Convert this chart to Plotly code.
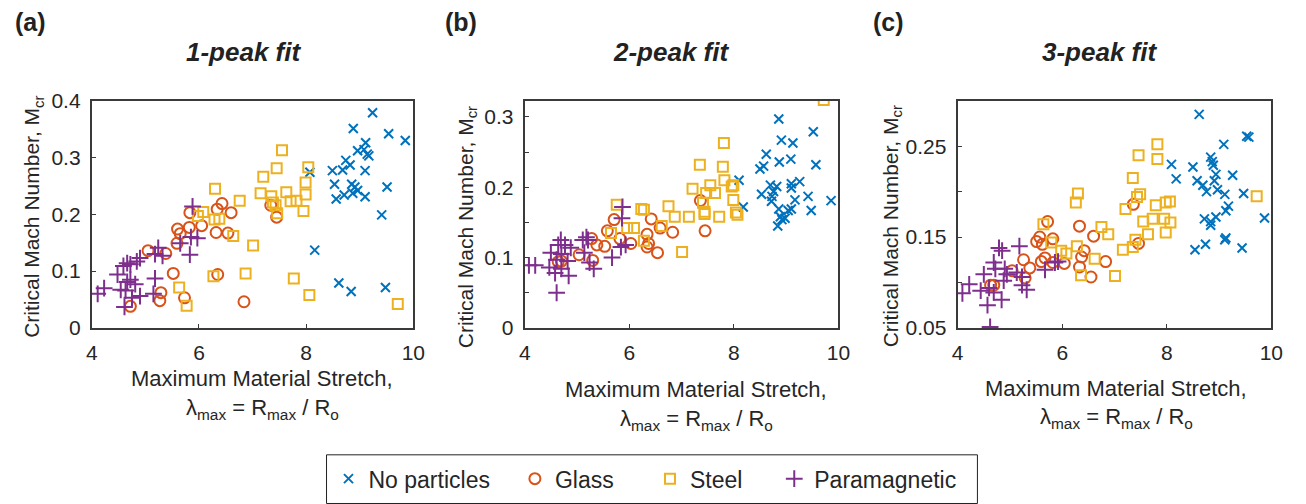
import plotly.graph_objects as go

W, H = 1306, 504

# ---------------- data ----------------
series_names = ["No particles", "Glass", "Steel", "Paramagnetic"]
panel_titles = ["1-peak fit", "2-peak fit", "3-peak fit"]
panel_labels = ["(a)", "(b)", "(c)"]
x_ticks = [4, 6, 8, 10]

# Panel (a) 1-peak fit
a_none_x = [9.24, 8.88, 9.54, 9.85, 9.11, 8.96, 9.08, 9.14, 9.17, 8.74, 8.82, 8.68, 8.07, 8.49, 9.10, 8.53, 8.85, 8.91, 8.96, 8.87, 8.71, 8.56, 9.10, 9.51, 9.41, 8.16, 8.61, 8.84, 9.48]
a_none_y = [0.379, 0.351, 0.342, 0.330, 0.326, 0.312, 0.314, 0.306, 0.303, 0.295, 0.287, 0.278, 0.274, 0.277, 0.277, 0.253, 0.253, 0.248, 0.242, 0.237, 0.234, 0.227, 0.231, 0.248, 0.199, 0.137, 0.079, 0.064, 0.071]
a_glass_x = [5.83, 6.43, 6.34, 6.60, 6.05, 5.82, 5.60, 5.65, 6.32, 6.54, 5.59, 5.05, 5.38, 5.52, 6.35, 5.29, 5.27, 5.73, 6.84, 4.72, 7.34, 7.45]
a_glass_y = [0.203, 0.219, 0.209, 0.203, 0.180, 0.177, 0.174, 0.166, 0.168, 0.167, 0.149, 0.136, 0.131, 0.096, 0.094, 0.062, 0.048, 0.053, 0.046, 0.038, 0.216, 0.195]
a_steel_x = [7.55, 7.45, 7.20, 8.04, 7.99, 6.30, 6.76, 7.15, 7.35, 7.38, 7.43, 7.63, 7.71, 7.82, 7.99, 7.95, 7.46, 6.08, 5.98, 6.29, 6.38, 6.64, 7.01, 6.87, 6.27, 7.77, 8.06, 5.63, 5.77, 9.71]
a_steel_y = [0.313, 0.281, 0.266, 0.283, 0.256, 0.245, 0.224, 0.237, 0.232, 0.221, 0.216, 0.239, 0.223, 0.224, 0.235, 0.206, 0.202, 0.204, 0.197, 0.191, 0.192, 0.162, 0.145, 0.096, 0.091, 0.087, 0.058, 0.071, 0.039, 0.042]
a_para_x = [5.88, 5.65, 5.85, 5.97, 5.83, 5.24, 5.18, 5.32, 4.90, 4.84, 4.66, 4.59, 4.72, 4.48, 4.72, 4.66, 4.81, 4.54, 4.63, 4.90, 4.75, 5.18, 5.15, 4.23, 4.11, 4.61]
a_para_y = [0.214, 0.149, 0.160, 0.158, 0.129, 0.141, 0.130, 0.127, 0.123, 0.117, 0.114, 0.109, 0.112, 0.094, 0.085, 0.081, 0.077, 0.067, 0.066, 0.056, 0.053, 0.087, 0.060, 0.070, 0.060, 0.037]

# Panel (b) 2-peak fit
b_none_x = [8.86, 9.52, 8.91, 9.13, 8.62, 8.57, 8.50, 8.87, 9.09, 9.57, 8.10, 8.70, 8.82, 9.10, 9.26, 9.10, 8.76, 8.53, 8.73, 8.72, 9.17, 9.42, 9.86, 8.18, 8.86, 9.04, 9.10, 9.48, 8.89, 8.98, 8.92, 8.84]
b_none_y = [0.297, 0.279, 0.267, 0.263, 0.247, 0.230, 0.226, 0.236, 0.240, 0.232, 0.210, 0.203, 0.201, 0.205, 0.208, 0.199, 0.194, 0.190, 0.187, 0.180, 0.182, 0.187, 0.181, 0.172, 0.169, 0.167, 0.169, 0.167, 0.158, 0.156, 0.154, 0.145]
b_glass_x = [7.36, 7.45, 5.71, 6.42, 6.59, 6.83, 5.58, 5.82, 6.03, 6.34, 6.37, 6.34, 6.54, 5.28, 5.38, 5.53, 5.04, 5.30, 4.70, 4.64]
b_glass_y = [0.181, 0.138, 0.154, 0.155, 0.142, 0.136, 0.138, 0.127, 0.120, 0.133, 0.120, 0.115, 0.107, 0.127, 0.118, 0.116, 0.104, 0.096, 0.095, 0.094]
b_steel_x = [9.72, 7.81, 7.35, 7.79, 7.82, 7.55, 7.21, 7.47, 7.64, 7.96, 7.99, 7.99, 7.41, 7.44, 7.44, 8.04, 8.07, 7.72, 7.14, 6.87, 6.75, 5.76, 6.23, 6.28, 6.62, 5.96, 6.09, 5.65, 6.28, 7.01]
b_steel_y = [0.324, 0.263, 0.232, 0.229, 0.210, 0.203, 0.198, 0.192, 0.192, 0.201, 0.203, 0.182, 0.178, 0.165, 0.162, 0.164, 0.161, 0.158, 0.158, 0.158, 0.173, 0.175, 0.169, 0.168, 0.145, 0.142, 0.142, 0.135, 0.124, 0.108]
b_para_x = [5.87, 5.86, 5.84, 5.93, 5.67, 5.21, 5.11, 5.18, 5.14, 5.24, 5.32, 4.69, 4.77, 4.88, 4.64, 4.50, 4.70, 4.61, 4.82, 4.08, 4.20, 4.47, 4.58, 4.84, 4.61, 4.70]
b_para_y = [0.172, 0.156, 0.115, 0.118, 0.100, 0.125, 0.125, 0.129, 0.107, 0.093, 0.084, 0.125, 0.118, 0.114, 0.118, 0.107, 0.105, 0.097, 0.095, 0.089, 0.089, 0.086, 0.078, 0.074, 0.050, 0.084]

# Panel (c) 3-peak fit
c_none_x = [8.62, 9.53, 9.57, 9.09, 8.09, 8.50, 8.84, 8.87, 8.89, 8.18, 8.58, 8.69, 8.94, 8.91, 9.26, 8.97, 8.76, 9.11, 9.47, 9.18, 9.13, 8.72, 8.84, 8.94, 8.84, 9.87, 9.13, 9.11, 8.74, 8.54, 9.44]
c_none_y = [0.285, 0.261, 0.260, 0.252, 0.230, 0.227, 0.238, 0.233, 0.229, 0.214, 0.212, 0.207, 0.219, 0.212, 0.218, 0.202, 0.200, 0.197, 0.198, 0.184, 0.179, 0.170, 0.167, 0.172, 0.163, 0.171, 0.149, 0.147, 0.142, 0.136, 0.138]
c_glass_x = [7.36, 7.46, 5.72, 6.33, 6.60, 5.57, 5.51, 5.62, 5.82, 6.42, 6.37, 6.33, 6.55, 6.83, 5.67, 5.60, 5.82, 6.04, 5.26, 5.38, 5.29, 5.04, 4.69, 4.63]
c_glass_y = [0.186, 0.143, 0.167, 0.162, 0.151, 0.150, 0.145, 0.142, 0.148, 0.135, 0.128, 0.117, 0.106, 0.123, 0.127, 0.123, 0.122, 0.121, 0.125, 0.116, 0.105, 0.113, 0.097, 0.097]
c_steel_x = [7.82, 7.46, 7.82, 7.35, 6.30, 6.26, 7.49, 7.43, 7.21, 7.79, 7.98, 8.06, 9.72, 7.55, 7.73, 7.95, 8.07, 7.98, 7.64, 7.40, 7.35, 7.16, 6.75, 6.88, 5.64, 5.79, 5.98, 6.08, 6.28, 6.62, 6.36, 7.01]
c_steel_y = [0.252, 0.240, 0.236, 0.215, 0.198, 0.188, 0.197, 0.194, 0.181, 0.185, 0.188, 0.189, 0.195, 0.167, 0.170, 0.170, 0.166, 0.155, 0.153, 0.147, 0.139, 0.136, 0.161, 0.153, 0.164, 0.144, 0.135, 0.132, 0.140, 0.126, 0.108, 0.107]
c_para_x = [4.79, 4.85, 5.18, 4.69, 4.72, 4.50, 4.90, 4.94, 4.88, 5.13, 5.23, 5.23, 5.32, 5.67, 5.86, 5.92, 4.22, 4.09, 4.44, 4.60, 4.69, 4.84, 4.57, 4.62]
c_para_y = [0.138, 0.135, 0.140, 0.122, 0.115, 0.109, 0.115, 0.109, 0.102, 0.111, 0.106, 0.097, 0.092, 0.114, 0.122, 0.123, 0.098, 0.088, 0.091, 0.094, 0.089, 0.081, 0.075, 0.051]

panels = [
    [(a_none_x, a_none_y), (a_glass_x, a_glass_y), (a_steel_x, a_steel_y), (a_para_x, a_para_y)],
    [(b_none_x, b_none_y), (b_glass_x, b_glass_y), (b_steel_x, b_steel_y), (b_para_x, b_para_y)],
    [(c_none_x, c_none_y), (c_glass_x, c_glass_y), (c_steel_x, c_steel_y), (c_para_x, c_para_y)],
]

# ---------------- style ----------------
colors = ["#0072BD", "#D95319", "#EDB120", "#7E2F8E"]
symbols = ["x-thin-open", "circle-open", "square-open", "cross-thin-open"]
sizes = [9, 11, 10, 12]
FONT = "Liberation Sans, Arial, sans-serif"
AX = "#3a3a3a"
TXT = "#262626"

def px(x):
    return x / W

def py(y):
    return 1 - y / H

boxes = [(87, 413), (526, 844), (965, 1283)]
top, bottom = 93, 331
legend_ids = ["legend", "legend2", "legend3", "legend4"]
legend_sym_x = [350, 539, 676, 802]   # pixel centre of each legend symbol

fig = go.Figure()

for p, series in enumerate(panels):
    ax = "" if p == 0 else str(p + 1)
    for s, (xs, ys) in enumerate(series):
        fig.add_trace(go.Scatter(
            x=xs, y=ys, mode="markers", name=series_names[s],
            xaxis="x" + ax, yaxis="y" + ax,
            showlegend=(p == 0), legend=legend_ids[s],
            marker=dict(symbol=symbols[s], size=sizes[s], color=colors[s],
                        line=dict(color=colors[s], width=2)),
        ))

common_axis = dict(
    showline=True, linecolor=AX, linewidth=2, mirror=True,
    ticks="inside", ticklen=4, tickwidth=1, tickcolor=AX,
    showgrid=False, zeroline=False,
    tickfont=dict(family=FONT, size=21, color=TXT),
)

yspecs = [
    dict(range=[0, 0.4], tickmode="array", tickvals=[0, 0.1, 0.2, 0.3, 0.4],
         ticktext=["0", "0.1", "0.2", "0.3", "0.4"]),
    dict(range=[0, 0.323], tickmode="array", tickvals=[0, 0.1, 0.2, 0.3],
         ticktext=["0", "0.1", "0.2", "0.3"],
         minor=dict(ticks="inside", ticklen=4, tickcolor=AX, tickvals=[0.05, 0.15, 0.25])),
    dict(range=[0.05, 0.3], tickmode="array", tickvals=[0.05, 0.15, 0.25],
         ticktext=["0.05", "0.15", "0.25"],
         minor=dict(ticks="inside", ticklen=4, tickcolor=AX, tickvals=[0.1, 0.2])),
]

layout = dict(
    width=W, height=H,
    margin=dict(l=0, r=0, t=0, b=0),
    paper_bgcolor="white", plot_bgcolor="white",
    font=dict(family=FONT, color=TXT),
    shapes=[dict(type="rect", xref="paper", yref="paper",
                 x0=px(325), x1=px(985), y0=py(515), y1=py(464),
                 line=dict(color="#222222", width=1), fillcolor="rgba(0,0,0,0)", layer="below")],
)

for s, lid in enumerate(legend_ids):
    layout[lid] = dict(
        orientation="h", x=px(legend_sym_x[s] - 23), y=py(489), xanchor="left", yanchor="middle",
        borderwidth=0, bgcolor="rgba(0,0,0,0)",
        font=dict(family=FONT, size=23, color=TXT),
        itemsizing="trace",
    )

for p in range(3):
    ax = "" if p == 0 else str(p + 1)
    l, r = boxes[p]
    layout["xaxis" + ax] = dict(
        common_axis, domain=[px(l), px(r)], range=[4, 10],
        tickmode="array", tickvals=x_ticks, ticktext=[str(v) for v in x_ticks],
        anchor="y" + ax, ticklabelstandoff=5,
    )
    layout["yaxis" + ax] = dict(
        common_axis, domain=[py(bottom), py(top)], anchor="x" + ax,
        ticklabelstandoff=5, **yspecs[p],
    )

fig.update_layout(**layout)

annotations = []
label_pos = [(25, 11), (461, 11), (895, 11)]
title_pos = [(241, 42), (674, 42), (1109, 42)]
ytitle_pos = [(28, 215), (467, 226), (898, 225)]
xt1_pos = [(260, 384), (700, 396), (1126, 394)]
xt2_pos = [(260, 416), (700, 428), (1126, 425)]

for p in range(3):
    annotations.append(dict(text="<b>" + panel_labels[p] + "</b>", x=px(label_pos[p][0]), y=py(label_pos[p][1]),
                            xref="paper", yref="paper", showarrow=False, xanchor="center", yanchor="middle",
                            font=dict(family=FONT, size=25, color="#222222")))
    annotations.append(dict(text="<b><i>" + panel_titles[p] + "</i></b>", x=px(title_pos[p][0]), y=py(title_pos[p][1]),
                            xref="paper", yref="paper", showarrow=False, xanchor="center", yanchor="middle",
                            font=dict(family=FONT, size=26, color="#222222")))
    annotations.append(dict(text="Critical Mach Number, M<sub>cr</sub>", textangle=-90,
                            x=px(ytitle_pos[p][0]), y=py(ytitle_pos[p][1]),
                            xref="paper", yref="paper", showarrow=False, xanchor="center", yanchor="middle",
                            font=dict(family=FONT, size=21, color=TXT)))
    annotations.append(dict(text="Maximum Material Stretch,", x=px(xt1_pos[p][0]), y=py(xt1_pos[p][1]),
                            xref="paper", yref="paper", showarrow=False, xanchor="center", yanchor="middle",
                            font=dict(family=FONT, size=22, color=TXT)))
    annotations.append(dict(text="\u03bb<sub>max</sub> = R<sub>max</sub> / R<sub>o</sub>",
                            x=px(xt2_pos[p][0]), y=py(xt2_pos[p][1]),
                            xref="paper", yref="paper", showarrow=False, xanchor="center", yanchor="middle",
                            font=dict(family=FONT, size=22, color=TXT)))

fig.update_layout(annotations=annotations)

fig.write_html("out.html")
